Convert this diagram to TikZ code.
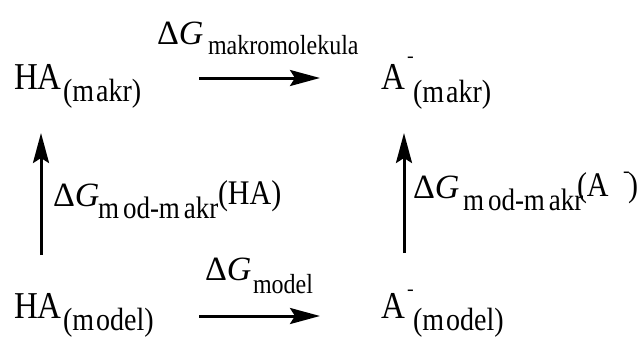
\documentclass[tikz,border=0pt]{standalone}
\usepackage{fontspec}
\usepackage{graphicx}
\setmainfont{Liberation Serif}
\usetikzlibrary{arrows.meta}
\newcommand\vst[1]{\scalebox{1}[1.15]{#1}}
\begin{document}
\begin{tikzpicture}[x=1pt,y=-1pt,
  txt/.style={anchor=base west,inner sep=0pt,outer sep=0pt},
  big/.style={txt,font=\fontsize{33}{36}\selectfont},
  lbl/.style={txt,font=\fontsize{30}{32}\selectfont},
  sub/.style={txt,font=\fontsize{28}{30}\selectfont},
  dg/.style={txt,font=\fontsize{34}{36}\selectfont},
  dsub/.style={txt,font=\fontsize{24}{26}\selectfont},
  msub/.style={txt,font=\fontsize{27}{29}\selectfont},
  supm/.style={txt,font=\fontsize{20}{22}\selectfont},
  arr/.style={line width=3pt,-{Stealth[length=30pt,width=16pt,inset=5pt]}}]
\useasboundingbox (0,0) rectangle (638,338);
% top row
\node[big] (ha1) at (14,89) {\vst{HA}};
\node[sub] (ha1s) at (63,101) {\vst{(m\kern2pt akr)}};
\node[dg] (dg1) at (157,44) {Δ\textit{G}};
\node[dsub] (dg1s) at (208,54) {\vst{makromolekula}};
\node[big] (a1) at (381,89) {\vst{A}};
\node[supm] (a1m) at (407,62) {-};
\node[sub] (a1s) at (413,102) {\vst{(m\kern2pt akr)}};
\coordinate (t1) at (199,78);
\coordinate (t2) at (320,78);
\draw[arr] (t1) -- (t2);
% left vertical
\coordinate (l1) at (41,255);
\coordinate (l2) at (41,133);
\draw[arr] (l1) -- (l2);
\node[dg] (dg2) at (53,206) {Δ\textit{G}};
\node[msub] (dg2s) at (98,218) {\vst{m\kern4pt od-m\kern4pt akr}};
\node[lbl] (dg2h) at (218,204) {\vst{(HA)}};
% right vertical
\coordinate (r1) at (404,253);
\coordinate (r2) at (404,133);
\draw[arr] (r1) -- (r2);
\node[dg] (dg3) at (413,198) {Δ\textit{G}};
\node[msub] (dg3s) at (463,210) {\vst{m\kern4pt od-m\kern4pt akr}};
\node[lbl] (dg3a) at (577,196) {\vst{(A}};
\node[supm] (dg3m) at (623,177) {-};
\node[lbl] (dg3p) at (628,196) {\vst{)}};
% bottom row
\node[big] (ha2) at (14,318) {\vst{HA}};
\node[sub] (ha2s) at (63,330) {\vst{(m\kern2pt odel)}};
\node[dg] (dg4) at (205,280) {Δ\textit{G}};
\node[dsub] (dg4s) at (253,293) {\vst{model}};
\node[big] (a2) at (381,318) {\vst{A}};
\node[supm] (a2m) at (407,295) {-};
\node[sub] (a2s) at (413,330) {\vst{(m\kern2pt odel)}};
\coordinate (b1) at (199,316);
\coordinate (b2) at (320,316);
\draw[arr] (b1) -- (b2);
\end{tikzpicture}
\end{document}
